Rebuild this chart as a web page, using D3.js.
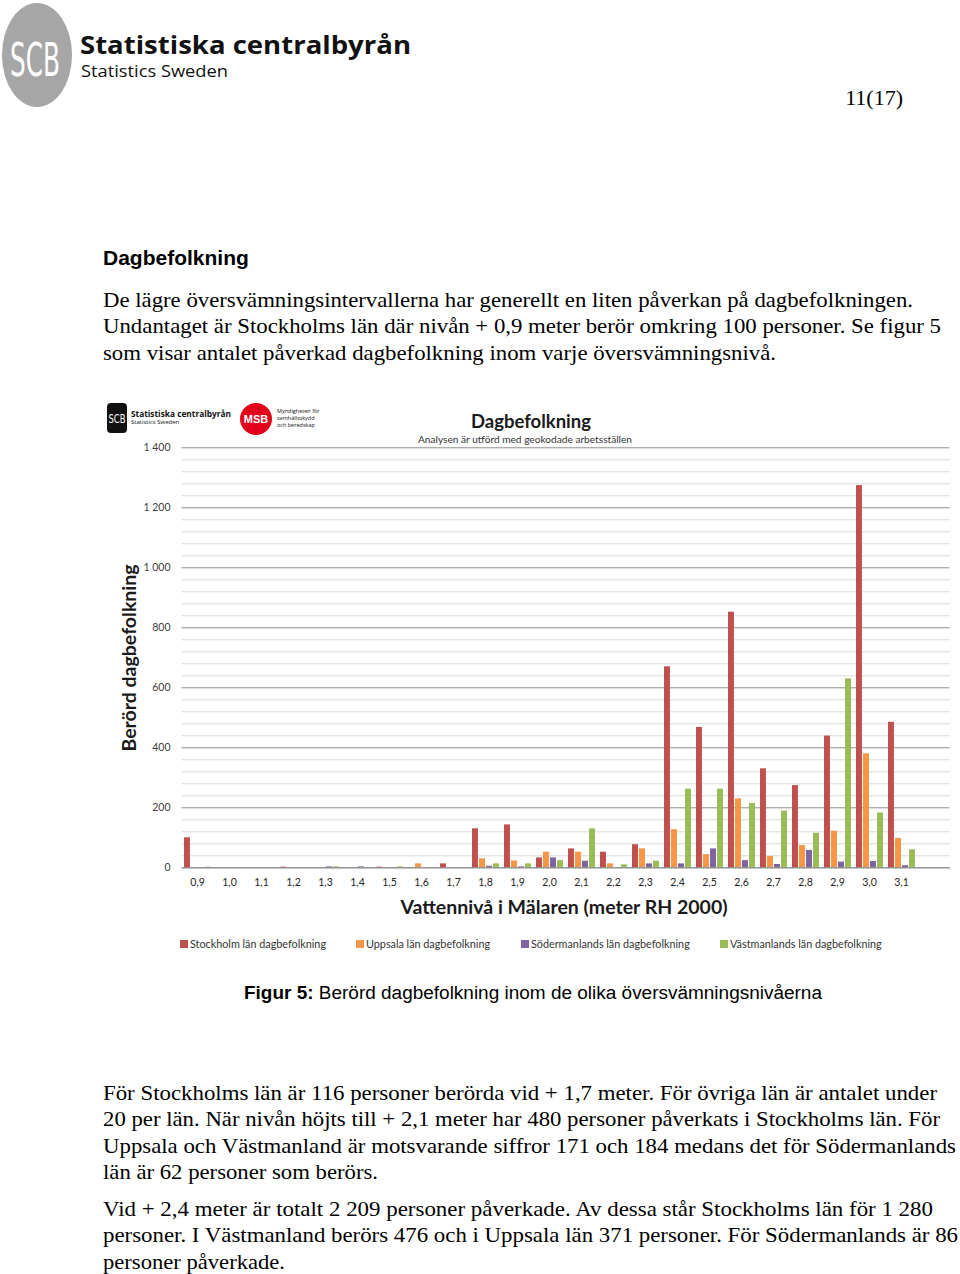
<!DOCTYPE html>
<html>
<head>
<meta charset="utf-8">
<script src="https://cdn.jsdelivr.net/npm/d3@7"></script>
<style>
	body { margin: 0; background: #fff; }
	svg { display: block; }
</style>
</head>
<body>
<svg id="page" width="960" height="1274"></svg>
<script>
// Categories (water level, meter RH 2000)
var categories = ["0,9","1,0","1,1","1,2","1,3","1,4","1,5","1,6","1,7","1,8","1,9","2,0","2,1","2,2","2,3","2,4","2,5","2,6","2,7","2,8","2,9","3,0","3,1"];

// Series
var seriesNames = ["Stockholm län dagbefolkning", "Uppsala län dagbefolkning", "Södermanlands län dagbefolkning", "Västmanlands län dagbefolkning"];
var stockholm    = [100,0,0,2,0,0,2,0,13,130,143,33,63,52,77,670,468,852,330,274,439,1274,485];
var uppsala      = [0,0,0,0,0,0,0,13,0,30,23,52,52,13,63,127,44,230,38,74,122,380,98];
var sodermanland = [0,0,0,0,3,3,0,0,0,5,3,33,22,0,13,13,63,24,11,58,19,21,7];
var vastmanland  = [2,0,0,0,3,0,3,0,0,13,13,24,130,10,22,262,262,215,189,115,630,183,60];

// Y ticks
var yTicks = [0,200,400,600,800,1000,1200,1400];

// Page text
var introLines = [
	"De lägre översvämningsintervallerna har generellt en liten påverkan på dagbefolkningen.",
	"Undantaget är Stockholms län där nivån + 0,9 meter berör omkring 100 personer. Se figur 5",
	"som visar antalet påverkad dagbefolkning inom varje översvämningsnivå."
];
var para1Lines = [
	"För Stockholms län är 116 personer berörda vid + 1,7 meter. För övriga län är antalet under",
	"20 per län. När nivån höjts till + 2,1 meter har 480 personer påverkats i Stockholms län. För",
	"Uppsala och Västmanland är motsvarande siffror 171 och 184 medans det för Södermanlands",
	"län är 62 personer som berörs."
];
var para2Lines = [
	"Vid + 2,4 meter är totalt 2 209 personer påverkade. Av dessa står Stockholms län för 1 280",
	"personer. I Västmanland berörs 476 och i Uppsala län 371 personer. För Södermanlands är 86",
	"personer påverkade."
];

var colors = ["#C0504D", "#F79646", "#8064A2", "#9BBB59"];
var serif = "'Liberation Serif', 'Times New Roman', serif";
var sans = "'Liberation Sans', Arial, sans-serif";
var chartFont = "Lato, 'Open Sans', sans-serif";

var svg = d3.select("#page");

// ---------- Page header ----------
svg.append("ellipse").attr("cx", 37).attr("cy", 55).attr("rx", 35).attr("ry", 52).attr("fill", "#a6a6a6");
svg.append("text").attr("x", 35).attr("y", 76).attr("text-anchor", "middle")
	.attr("font-family", "'DejaVu Sans Condensed', " + sans).attr("font-size", 46)
	.attr("textLength", 50).attr("lengthAdjust", "spacingAndGlyphs")
	.attr("fill", "#fff").text("SCB");
svg.append("text").attr("x", 80).attr("y", 54)
	.attr("font-family", "'Open Sans', " + sans).attr("font-weight", "bold").attr("font-size", 25)
	.attr("textLength", 331).attr("lengthAdjust", "spacingAndGlyphs")
	.attr("fill", "#111").text("Statistiska centralbyrån");
svg.append("text").attr("x", 81).attr("y", 77)
	.attr("font-family", "'Open Sans', " + sans).attr("font-size", 16)
	.attr("textLength", 147).attr("lengthAdjust", "spacingAndGlyphs")
	.attr("fill", "#111").text("Statistics Sweden");
svg.append("text").attr("x", 903).attr("y", 105).attr("text-anchor", "end")
	.attr("font-family", serif).attr("font-size", 22).attr("fill", "#000").text("11(17)");

svg.append("text").attr("x", 103).attr("y", 265)
	.attr("font-family", sans).attr("font-weight", "bold").attr("font-size", 21)
	.attr("fill", "#000").text("Dagbefolkning");

function paragraph(lines, y0, widths) {
	lines.forEach(function(line, i) {
		svg.append("text")
			.attr("x", 103).attr("y", y0 + i * 26.4)
			.attr("font-family", serif).attr("font-size", 21)
			.attr("textLength", widths[i]).attr("lengthAdjust", "spacingAndGlyphs")
			.attr("fill", "#000").text(line);
	});
}
paragraph(introLines, 307, [810, 838, 673]);
paragraph(para1Lines, 1100, [834, 837, 853, 275]);
paragraph(para2Lines, 1216, [830, 855, 182]);

// Caption
var cap = svg.append("text").attr("x", 244).attr("y", 999)
	.attr("font-family", sans).attr("font-size", 18)
	.attr("textLength", 578).attr("lengthAdjust", "spacingAndGlyphs").attr("fill", "#000");
cap.append("tspan").attr("font-weight", "bold").text("Figur 5:");
cap.append("tspan").text(" Berörd dagbefolkning inom de olika översvämningsnivåerna");

// ---------- Chart ----------
var plot = { left: 181.5, right: 949.5, top: 447.3, bottom: 867.3 };
var locale = d3.formatLocale({ decimal: ",", thousands: " ", grouping: [3], currency: ["", ""] });

var x = d3.scaleBand()
	.domain(categories.concat([""]))
	.range([plot.left, plot.right])
	.paddingInner(0.156)
	.paddingOuter(0.078);

var xi = d3.scaleBand()
	.domain(d3.range(seriesNames.length))
	.range([0, x.bandwidth()])
	.paddingInner(0.15);

var y = d3.scaleLinear().domain([0, 1400]).range([plot.bottom, plot.top]);

var g = svg.append("g");

// minor gridlines
g.append("g")
	.attr("transform", "translate(" + plot.left + ",0)")
	.call(d3.axisLeft(y).tickValues(d3.range(40, 1400, 40).filter(function(v) { return v % 200; }))
		.tickSize(-(plot.right - plot.left)).tickFormat(""))
	.call(function(a) {
		a.select(".domain").remove();
		a.selectAll("line").attr("stroke", "#d9d9d9").attr("stroke-width", 1);
	});

// major gridlines
g.append("g")
	.attr("transform", "translate(" + plot.left + ",0)")
	.call(d3.axisLeft(y).tickValues(yTicks).tickSize(-(plot.right - plot.left)).tickFormat(""))
	.call(function(a) {
		a.select(".domain").remove();
		a.selectAll("line").attr("stroke", "#8c8c8c").attr("stroke-width", 1);
	});

// y labels
g.append("g")
	.attr("transform", "translate(" + plot.left + ",0)")
	.call(d3.axisLeft(y).tickValues(yTicks).tickSize(0).tickPadding(11).tickFormat(locale.format(",")))
	.call(function(a) {
		a.select(".domain").remove();
		a.selectAll("text").attr("font-family", chartFont).attr("font-size", 10.5).attr("fill", "#404040");
	});

// bars
var seriesData = [stockholm, uppsala, sodermanland, vastmanland];
g.selectAll(".serie")
	.data(seriesData)
	.enter().append("g")
		.attr("class", "serie")
		.attr("fill", function(d, i) { return colors[i]; })
		.attr("transform", function(d, i) { return "translate(" + xi(i) + ",0)"; })
	.selectAll("rect")
	.data(function(d) { return d; })
	.enter().append("rect")
		.attr("x", function(d, i) { return x(categories[i]); })
		.attr("y", function(d) { return y(d); })
		.attr("width", xi.bandwidth())
		.attr("height", function(d) { return y(0) - y(d); });

// x axis
g.append("g")
	.attr("transform", "translate(0," + plot.bottom + ")")
	.call(d3.axisBottom(x).tickValues(categories).tickSize(0).tickPadding(11))
	.call(function(a) {
		a.select(".domain").attr("stroke", "#8c8c8c");
		a.selectAll("text").attr("font-family", chartFont).attr("font-size", 10.5).attr("fill", "#262626");
	});

// titles
g.append("text").attr("x", 531).attr("y", 428).attr("text-anchor", "middle")
	.attr("font-family", chartFont).attr("font-weight", "bold").attr("font-size", 18.5)
	.attr("fill", "#1a1a1a").text("Dagbefolkning");
g.append("text").attr("x", 525).attr("y", 443).attr("text-anchor", "middle")
	.attr("font-family", chartFont).attr("font-size", 10)
	.attr("textLength", 214).attr("lengthAdjust", "spacingAndGlyphs")
	.attr("fill", "#333").text("Analysen är utförd  med geokodade arbetsställen");
g.append("text").attr("x", 564).attr("y", 914).attr("text-anchor", "middle")
	.attr("font-family", chartFont).attr("font-weight", "bold").attr("font-size", 19.5)
	.attr("fill", "#1a1a1a").text("Vattennivå i Mälaren (meter RH 2000)");
g.append("text")
	.attr("transform", "translate(136,658) rotate(-90)").attr("text-anchor", "middle")
	.attr("font-family", chartFont).attr("font-weight", "bold").attr("font-size", 19.5)
	.attr("fill", "#1a1a1a").text("Berörd dagbefolkning");

// legend
var legendX = [180, 356, 521, 720];
var legend = g.selectAll(".legend")
	.data(seriesNames)
	.enter().append("g")
		.attr("class", "legend")
		.attr("transform", function(d, i) { return "translate(" + legendX[i] + ",940)"; });
legend.append("rect").attr("width", 8).attr("height", 8).attr("fill", function(d, i) { return colors[i]; });
legend.append("text").attr("x", 10).attr("y", 4).attr("dy", ".35em")
	.attr("font-family", chartFont).attr("font-size", 10.8).attr("fill", "#333")
	.text(function(d) { return d; });

// chart logos
var logo = g.append("g").attr("transform", "translate(107,403)");
logo.append("rect").attr("width", 20).attr("height", 30).attr("rx", 4).attr("fill", "#111");
logo.append("text").attr("x", 10).attr("y", 20).attr("text-anchor", "middle")
	.attr("font-family", "'DejaVu Sans Condensed', " + sans).attr("font-size", 13)
	.attr("textLength", 17).attr("lengthAdjust", "spacingAndGlyphs").attr("fill", "#fff").text("SCB");
logo.append("text").attr("x", 24).attr("y", 14)
	.attr("font-family", "'Open Sans', " + sans).attr("font-weight", "bold").attr("font-size", 9)
	.attr("textLength", 100).attr("lengthAdjust", "spacingAndGlyphs").attr("fill", "#111").text("Statistiska centralbyrån");
logo.append("text").attr("x", 24).attr("y", 21)
	.attr("font-family", "'Open Sans', " + sans).attr("font-size", 6)
	.attr("fill", "#111").text("Statistics Sweden");

var msb = g.append("g").attr("transform", "translate(256,419)");
msb.append("circle").attr("r", 16).attr("fill", "#e2001a");
msb.append("text").attr("y", 4).attr("text-anchor", "middle")
	.attr("font-family", sans).attr("font-weight", "bold").attr("font-size", 11)
	.attr("fill", "#fff").text("MSB");
["Myndigheten för", "samhällsskydd", "och beredskap"].forEach(function(t, i) {
	msb.append("text").attr("x", 21).attr("y", -6 + i * 7)
		.attr("font-family", "'Open Sans', " + sans).attr("font-size", 5.5)
		.attr("fill", "#111").text(t);
});
</script>
</body>
</html>
